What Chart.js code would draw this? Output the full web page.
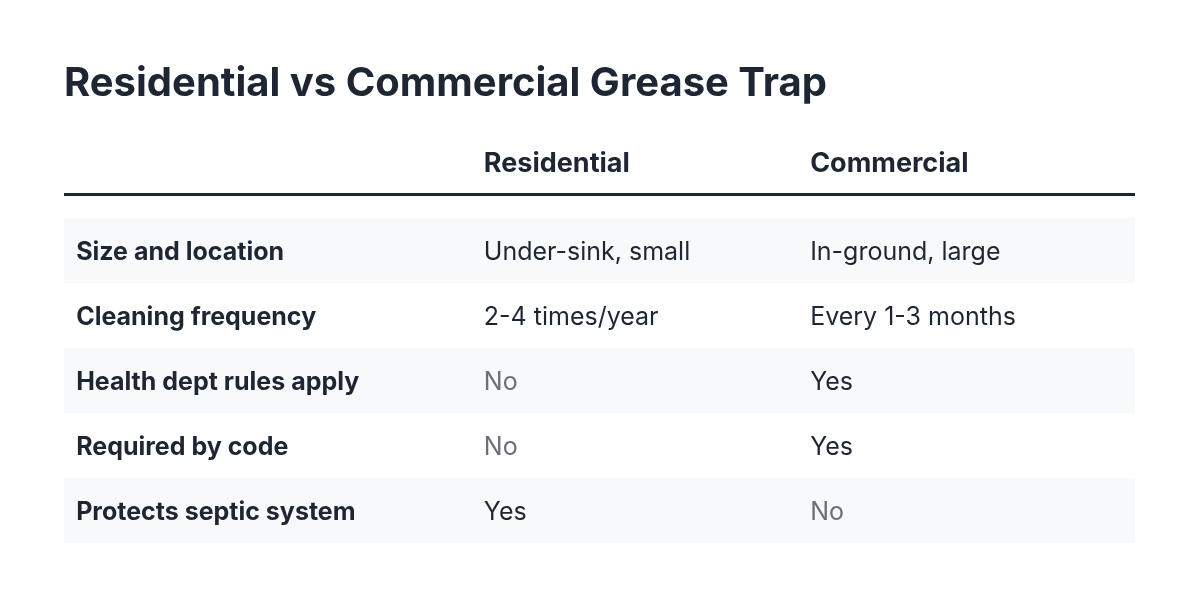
<!DOCTYPE html>
<html><head><meta charset="utf-8">
<script src="https://cdn.jsdelivr.net/npm/chart.js@4/dist/chart.umd.min.js"></script>
<style>html,body{margin:0;padding:0;background:#fff}#w{width:1200px;height:599px}</style>
</head><body><div id="w"><canvas id="c"></canvas></div>
<script>
const title = "Residential vs Commercial Grease Trap";
const columns = ["Residential", "Commercial"];
const rowLabels = ["Size and location","Cleaning frequency","Health dept rules apply","Required by code","Protects septic system"];
const residential = ["Under-sink, small","2-4 times/year","No","No","Yes"];
const commercial = ["In-ground, large","Every 1-3 months","Yes","Yes","No"];
const shaded = [true,false,true,false,true];

const DARK = "#1e2633", GRAY = "#6b7078", FONT = "Inter, 'Noto Sans', sans-serif";
const colX = [0.034, 1.176, 2.09];

const textPlugin = {
  id: 'tableText',
  afterDraw(chart) {
    const ctx = chart.ctx, xs = chart.scales.x, ys = chart.scales.y, a = chart.chartArea;
    ctx.save();
    ctx.textBaseline = 'alphabetic';
    ctx.fillStyle = DARK;
    ctx.font = "bold 40px " + FONT;
    ctx.fillText(title, 64, 96);
    ctx.font = "bold 27px " + FONT;
    columns.forEach((c, i) => ctx.fillText(c, xs.getPixelForValue(colX[i + 1]), 172));
    ctx.fillStyle = DARK;
    ctx.fillRect(a.left, 193, a.right - a.left, 3);
    ctx.textBaseline = 'middle';
    rowLabels.forEach((lab, r) => {
      const y = ys.getPixelForValue(r) + 2;
      ctx.font = "bold 25px " + FONT; ctx.fillStyle = DARK;
      ctx.fillText(lab, xs.getPixelForValue(colX[0]), y);
      [residential[r], commercial[r]].forEach((v, k) => {
        ctx.font = "25px " + FONT;
        ctx.fillStyle = v === "No" ? GRAY : DARK;
        ctx.fillText(v, xs.getPixelForValue(colX[k + 1]), y);
      });
    });
    ctx.restore();
  }
};

new Chart(document.getElementById('c'), {
  type: 'bar',
  data: { labels: rowLabels, datasets: [{
    data: shaded.map(s => s ? 3 : null),
    backgroundColor: '#f8f9fb', barPercentage: 1, categoryPercentage: 1, borderWidth: 0
  }]},
  options: {
    indexAxis: 'y', responsive: true, maintainAspectRatio: false, animation: false,
    layout: { padding: { left: 64, right: 65, top: 218, bottom: 56 } },
    plugins: { legend: { display: false }, tooltip: { enabled: false } },
    scales: {
      x: { min: 0, max: 3, display: false },
      y: { display: false }
    }
  },
  plugins: [textPlugin]
});
</script></body></html>
